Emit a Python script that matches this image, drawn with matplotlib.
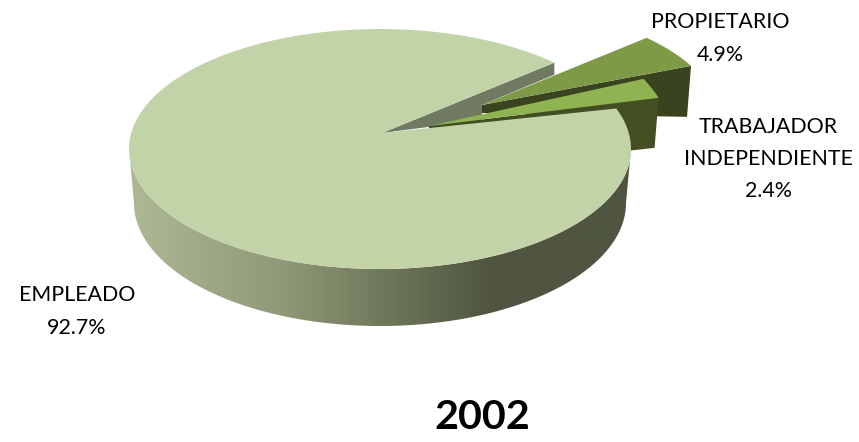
import numpy as np
import matplotlib
matplotlib.use("Agg")
import matplotlib.pyplot as plt
from matplotlib.colors import LinearSegmentedColormap
from matplotlib.patches import Polygon

# Data
categories = ["EMPLEADO", "PROPIETARIO", "TRABAJADOR\nINDEPENDIENTE"]
values = [92.7, 4.9, 2.4]
year_label = "2002"

plt.rcParams["font.family"] = ["Lato", "DejaVu Sans"]
fig = plt.figure(figsize=(8.59, 4.42), dpi=100)
ax = fig.add_axes([0, 0, 1, 1])
ax.set_xlim(0, 859)
ax.set_ylim(442, 0)
ax.axis("off")

# geometry of the projected pie
CX, CY, RX, RY = 380, 149, 251, 120
BCX, BCY, BRX, BRY = 380, 203, 246, 123
HUB = np.array([382.0, 133.0])
START = 46.0


def ell(t, cx=CX, cy=CY, rx=RX, ry=RY):
    t = np.radians(t)
    return np.column_stack([cx + rx * np.cos(t), cy - ry * np.sin(t)])


sweeps = [v / sum(values) * 360 for v in values]
main_s, main_e = START, START + sweeps[0]
prop_s, prop_e = START, START - sweeps[1]
trab_s, trab_e = prop_e, prop_e - sweeps[2]


def wedge(hub, t0, t1, scale, yscale=None):
    arc = ell(np.linspace(t0, t1, 40))
    s = np.array([scale, scale if yscale is None else yscale])
    return np.vstack([hub, hub + s * (arc - HUB)])


def side(top_pts, hub, drop_outer, drop_hub, dx):
    outer = top_pts[-1]
    return np.array([hub, outer, outer + [dx, drop_outer], hub + [0, drop_hub]])


# gradient side wall of the main slice
tt = np.linspace(180, 360, 200)
band = np.vstack([ell(tt), ell(tt[::-1], BCX, BCY, BRX, BRY)])
grad = LinearSegmentedColormap.from_list(
    "wall",
    [(0.0, "#acb994"), (0.3, "#8f9a78"), (0.52, "#6d7659"),
     (0.72, "#4f5540"), (1.0, "#4f5540")],
)
im = ax.imshow(np.linspace(0, 1, 512)[None, :], cmap=grad, aspect="auto",
               extent=(129, 631, 442, 0), zorder=1)
clip = Polygon(band, closed=True, transform=ax.transData)
im.set_clip_path(clip)
ax.set_xlim(0, 859)
ax.set_ylim(442, 0)

prop_hub = np.array([482.0, 105.0])
trab_hub = np.array([429.0, 126.0])

# EMPLEADO slice: inner wall seen through the gap
p = ell([main_s])[0]
ax.add_patch(Polygon([HUB, p, p + [0, 12], prop_hub, prop_hub + [0, 8],
                      prop_hub + [0, 15]],
                     fc="#707a62", ec="none", zorder=1.5))

# PROPIETARIO slice
prop_top = wedge(prop_hub, prop_s, prop_e, 0.955)
ax.add_patch(Polygon(side(prop_top, prop_hub, 51, 8, -4), fc="#39431f", ec="none", zorder=2))
ax.add_patch(Polygon(prop_top, fc="#7e9a47", ec="none", zorder=3))

# TRABAJADOR slice: side
trab_top = wedge(trab_hub, trab_s, trab_e, 0.98, 1.15)
ax.add_patch(Polygon(side(trab_top, trab_hub, 50, 3, -4), fc="#434f22", ec="none", zorder=4))
ax.add_patch(Polygon(np.vstack([trab_top[-1] + [-4, 50], trab_top[-1] + [-31, 53],
                                ell([main_e])[0] + [0, 30], ell([main_e])[0]]),
                     fc="#434f22", ec="none", zorder=4))

# EMPLEADO slice: top
arc = ell(np.linspace(main_s, main_e, 400))
ax.add_patch(Polygon(np.vstack([HUB, arc]), fc="#c3d3a8", ec="none", zorder=6))

# TRABAJADOR slice: top
ax.add_patch(Polygon(trab_top, fc="#8fb350", ec="none", zorder=7))

# labels
fs = 15.4
ls = 1.76
ax.text(720, 38.5, f"{categories[1]}\n{values[1]}%", ha="center", va="center",
        fontsize=fs, linespacing=ls, color="black", zorder=8)
ax.text(768, 159, f"{categories[2]}\n{values[2]}%", ha="center", va="center",
        fontsize=fs, linespacing=ls, color="black", zorder=8)
ax.text(77, 311.5, f"{categories[0]}\n{values[0]}%", ha="center", va="center",
        fontsize=fs, linespacing=ls, color="black", zorder=8)
ax.text(482.5, 417.5, year_label, ha="center", va="center", fontsize=29.7,
        fontweight="bold", color="black", zorder=8)

fig.savefig("out.png", dpi=100)
